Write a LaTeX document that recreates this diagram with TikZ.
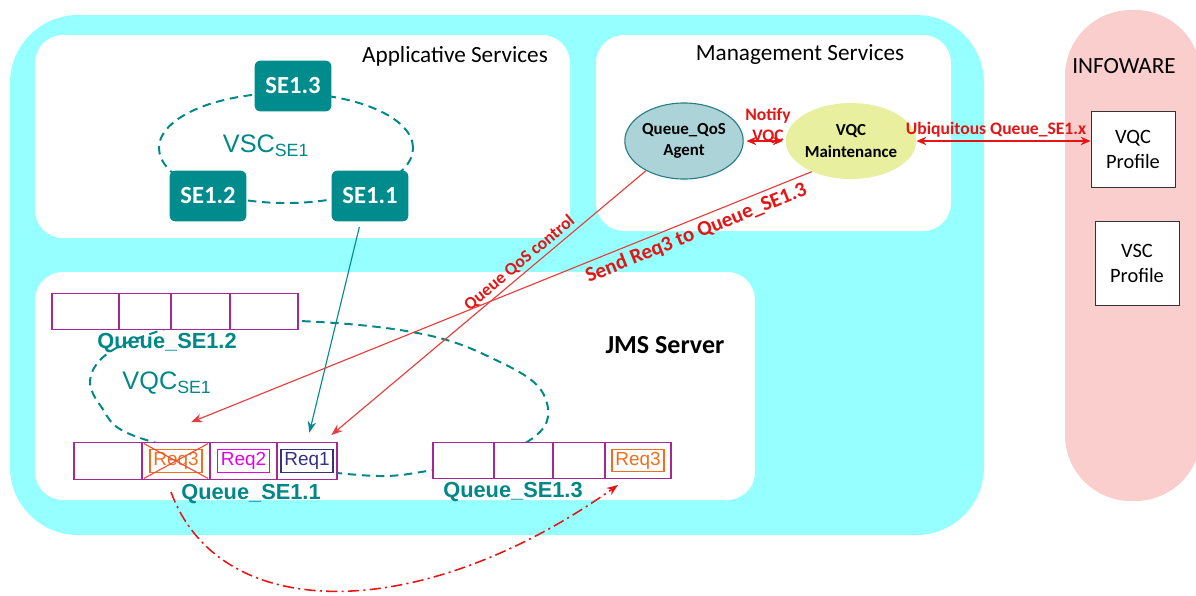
\documentclass[tikz,border=0pt]{standalone}
\usepackage{fontspec}
\setmainfont{Carlito}
\newfontfamily\arialf{Liberation Sans}
\usetikzlibrary{shapes.geometric,arrows.meta}
\newcommand\fsz[2]{\fontsize{#1}{#2}\selectfont}
\definecolor{aquabg}{RGB}{150,255,255}
\definecolor{pinkbg}{RGB}{251,206,206}
\definecolor{seteal}{RGB}{0,140,140}
\definecolor{qteal}{RGB}{0,136,136}
\definecolor{qpurple}{RGB}{165,40,150}
\definecolor{reqorange}{RGB}{240,110,30}
\definecolor{reqmag}{RGB}{230,0,230}
\definecolor{reqnavy}{RGB}{50,50,130}
\definecolor{crossred}{RGB}{235,80,50}
\definecolor{labelred}{RGB}{230,20,20}
\definecolor{linkred}{RGB}{232,60,60}
\definecolor{agentfill}{RGB}{172,212,216}
\definecolor{agentline}{RGB}{40,125,130}
\definecolor{vqcfill}{RGB}{232,240,160}
\tikzset{
  panel/.style={fill=white, rounded corners=0.7cm},
  title/.style={font=\fsz{16.5}{18}},
  sebox/.style={fill=seteal, rounded corners=0.15cm, text=white, font=\bfseries\fsz{17.5}{19},
    minimum width=1.92cm, minimum height=1.27cm},
  mgmt/.style={ellipse, minimum height=1.9cm, inner sep=0pt, align=center, font=\bfseries\fsz{12}{15}},
  profile/.style={draw=black!80, fill=white, line width=0.7pt, minimum width=2.1cm,
    minimum height=1.88cm, align=center, font=\fsz{14.5}{17.5}},
  cell/.style={draw=qpurple, fill=white, line width=0.8pt, minimum height=0.91cm, inner sep=0pt},
  req/.style={draw=#1, text=#1, line width=0.8pt, font=\arialf\fsz{13.5}{15},
    minimum width=1.3cm, minimum height=0.57cm, inner sep=0pt},
  qname/.style={text=qteal, font=\arialf\bfseries\fsz{15.5}{17}},
  ringname/.style={text=qteal, font=\arialf\fsz{18}{20}},
  dashring/.style={draw=qteal, line width=1.4pt, dash pattern=on 6pt off 4pt},
  redtxt/.style={text=labelred, font=\bfseries\fsz{12.5}{15.5}},
  tolink/.style={draw=linkred, line width=0.8pt, -{Stealth[length=8pt,width=6pt]}},
  bothlink/.style={draw=labelred, line width=0.8pt,
    {Stealth[length=7pt,width=6pt]}-{Stealth[length=7pt,width=6pt]}},
}
\begin{document}
\begin{tikzpicture}[x=0.025cm, y=-0.025cm]
\useasboundingbox (0,0) rectangle (1196,595);
\clip (0,0) rectangle (1196,595);
\fill[aquabg, rounded corners=1.7cm] (10,15) rectangle (984,535);
\fill[pinkbg, rounded corners=1.65cm] (1065,10) rectangle (1201,501);
\fill[panel] (35,35) rectangle (570,238);
\fill[panel] (596,35) rectangle (951,231);
\fill[panel] (35,272) rectangle (755,500);
\node[title] (apptitle) at (455,56) {Applicative Services};
\node[title] (mgmttitle) at (800,55) {Management Services};
\node[title] (infotitle) at (1124,66) {INFOWARE};
\node[font=\bfseries\fsz{18.5}{20}] (jmstitle) at (665,345) {JMS Server};

\draw[dashring] (286,148) ellipse [x radius=3.175cm, y radius=1.375cm];
\node[sebox] (se13) at (293,86) {SE1.3};
\node[sebox] (se12) at (208,196) {SE1.2};
\node[sebox] (se11) at (370,196) {SE1.1};
\node[ringname] (vsclabel) at (266,146) {VSC\textsubscript{SE1}};

\node[mgmt, fill=agentfill, draw=agentline, line width=0.8pt, minimum width=2.35cm] (agent) at (684,141) {Queue\_QoS\\Agent};
\node[mgmt, fill=vqcfill, minimum width=2.75cm] (vqc) at (851,141) {VQC\\Maintenance};
\draw[bothlink, shorten <=2pt, shorten >=2pt] (agent) -- (vqc);
\node[redtxt, align=center] (notify) at (768,126) {Notify\\VQC};
\node[profile] (vqcprof) at (1133,149.5) {VQC\\Profile};
\node[profile, minimum height=2.08cm] (vscprof) at (1137,263.5) {VSC\\Profile};
\draw[bothlink] (vqc.east) -- (vqc.east -| vqcprof.west);
\node[redtxt] (ubiq) at (996,130) {Ubiquitous Queue\_SE1.x};

\draw[dashring] plot[smooth cycle, tension=0.7] coordinates {(230,320) (400,330) (500,362) (546,400) (527,442)
  (433,470) (337,473) (153,442) (100,405) (96,365) (150,334)};
\foreach \a/\b [count=\i] in {52/119,119/171,171/230,230/298}
  \node[cell, minimum width={(\b-\a)*0.025cm}] (q12c\i) at ({(\a+\b)/2},311.5) {};
\foreach \a/\b [count=\i] in {74/142,142/210,210/277,277/337}
  \node[cell, minimum width={(\b-\a)*0.025cm}] (q11c\i) at ({(\a+\b)/2},461) {};
\foreach \a/\b [count=\i] in {433/494,494/553,553/605,605/671}
  \node[cell, minimum width={(\b-\a)*0.025cm}] (q13c\i) at ({(\a+\b)/2},460.5) {};
\node[req=reqorange] (q11req3) at (q11c2) {Req3};
\node[req=reqmag] (q11req2) at (q11c3) {Req2};
\node[req=reqnavy] (q11req1) at (q11c4) {Req1};
\node[req=reqorange] (q13req3) at (q13c4) {Req3};
\draw[crossred, line width=0.8pt, shorten <=2pt, shorten >=2pt] (q11c2.north west) -- (q11c2.south east);
\draw[crossred, line width=0.8pt, shorten <=2pt, shorten >=2pt] (q11c2.south west) -- (q11c2.north east);
\node[qname] (q12name) at (167,343) {Queue\_SE1.2};
\node[qname] (q11name) at (251,494) {Queue\_SE1.1};
\node[qname] (q13name) at (513,492) {Queue\_SE1.3};
\node[ringname] (vqclabel) at (167,383) {VQC\textsubscript{SE1}};

\draw[tolink, draw=seteal, -{Stealth[length=8pt,width=6pt]}, shorten <=4pt, shorten >=7pt] (se11.-110) -- (q11c4.north);
\draw[tolink, shorten >=8pt] (agent.218) -- (q11c4.50)
  node[pos=0.37, above, sloped, redtxt, inner sep=2pt] {Queue QoS control};
\draw[tolink, shorten >=38pt] (vqc.218) -- (q11c2.north west)
  node[pos=0.18, below, sloped, redtxt, font=\bfseries\fsz{15}{17}, inner sep=3pt] {Send Req3 to Queue\_SE1.3};

\coordinate (movefrom) at (171,492);
\coordinate (moveto) at (618,485);
\draw[tolink, draw=labelred, line width=1.1pt, dash pattern=on 8pt off 3pt on 1.5pt off 3pt]
  (movefrom) .. controls (220,625) and (420,625) .. (moveto);
\end{tikzpicture}
\end{document}
